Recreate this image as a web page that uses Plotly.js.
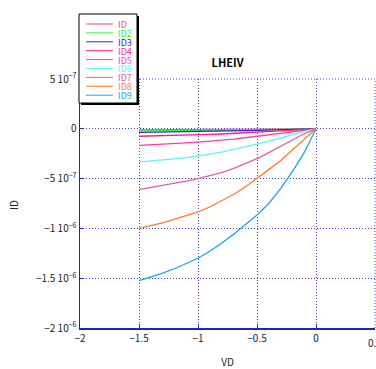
<!DOCTYPE html>
<html>
<head>
<meta charset="utf-8">
<script src="https://cdn.plot.ly/plotly-3.0.1.min.js"></script>
<style>html,body{margin:0;padding:0;background:#fff;}#chart{width:376px;height:369px;}</style>
</head>
<body>
<div id="chart"></div>
<script>
// ---- data ----
const VD = [-1.5,-1.4,-1.3,-1.2,-1.1,-1.0,-0.9,-0.8,-0.7,-0.6,-0.5,-0.4,-0.3,-0.2,-0.1,0];
const ID1 = [-0.10,-0.10,-0.09,-0.09,-0.08,-0.08,-0.07,-0.07,-0.06,-0.05,-0.05,-0.04,-0.03,-0.02,-0.01,0].map(v=>v*1e-7);
const ID2 = [-0.20,-0.19,-0.19,-0.18,-0.17,-0.16,-0.15,-0.14,-0.12,-0.11,-0.09,-0.07,-0.06,-0.04,-0.02,0].map(v=>v*1e-7);
const ID3 = [-0.35,-0.34,-0.33,-0.31,-0.30,-0.28,-0.26,-0.24,-0.21,-0.19,-0.16,-0.13,-0.10,-0.07,-0.03,0].map(v=>v*1e-7);
const ID4 = [-0.75,-0.73,-0.70,-0.67,-0.64,-0.60,-0.56,-0.52,-0.46,-0.40,-0.34,-0.28,-0.21,-0.14,-0.07,0].map(v=>v*1e-7);
const ID5 = [-1.67,-1.62,-1.56,-1.49,-1.42,-1.34,-1.25,-1.15,-1.03,-0.90,-0.76,-0.62,-0.46,-0.30,-0.15,0].map(v=>v*1e-7);
const ID6 = [-3.33,-3.25,-3.15,-3.02,-2.90,-2.75,-2.55,-2.35,-2.10,-1.85,-1.55,-1.25,-0.90,-0.55,-0.25,0].map(v=>v*1e-7);
const ID7 = [-6.10,-5.90,-5.70,-5.45,-5.25,-5.00,-4.70,-4.40,-4.00,-3.50,-3.00,-2.40,-1.75,-1.10,-0.50,0].map(v=>v*1e-7);
const ID8 = [-10.0,-9.75,-9.45,-9.10,-8.75,-8.35,-7.85,-7.25,-6.60,-5.85,-5.00,-4.10,-3.20,-2.10,-1.00,0].map(v=>v*1e-7);
const ID9 = [-15.25,-14.9,-14.5,-14.05,-13.55,-13.0,-12.3,-11.5,-10.6,-9.65,-8.65,-7.5,-6.0,-4.3,-2.4,0].map(v=>v*1e-7);

const seriesNames = ["ID","ID2","ID3","ID4","ID5","ID6","ID7","ID8","ID9"];
const seriesData = [ID1,ID2,ID3,ID4,ID5,ID6,ID7,ID8,ID9];
const seriesColors = ["#ff3d9a","#33ee33","#2a2acc","#ff1a8c","#ff3da0","#5ff5f5","#e0609a","#ff7a26","#1fa6dd"];

const xTickVals = [-2,-1.5,-1,-0.5,0,0.5];
const xTickText = ["−2","−1.5","−1","−0.5","0","0.5"];
const yTickVals = [5e-7,0,-5e-7,-1e-6,-1.5e-6,-2e-6];
const yTickText = ["5 10<sup>−7</sup>","0","−5 10<sup>−7</sup>","−1 10<sup>−6</sup>","−1.5 10<sup>−6</sup>","−2 10<sup>−6</sup>"];

// ---- layout geometry ----
const W=376, H=369, L=80, R=1, T=79, B=41;
const pw=W-L-R, ph=H-T-B;
const px = x => (x-L)/pw;
const py = y => (H-B-y)/ph;
const FONT = '"Noto Sans CJK JP", "DejaVu Sans", sans-serif';
const BLUE = '#2020cc';
const GRID = '#3c3cd8';
const DOT = '1px,2px';

const traces = seriesNames.map((n,i)=>({
  x: VD, y: seriesData[i], name: n, type:'scatter', mode:'lines',
  line:{color:seriesColors[i], width:1.3}, showlegend:false, hoverinfo:'skip'
}));

const shapes = [
  // dotted top and right frame (grid at range ends)
  {type:'line', xref:'paper', yref:'paper', x0:0, x1:1, y0:1, y1:1, line:{color:GRID, width:1, dash:DOT}, layer:'below'},
  {type:'line', xref:'paper', yref:'paper', x0:1, x1:1, y0:0, y1:1, line:{color:GRID, width:1, dash:DOT}, layer:'below'},
  // compact legend box with shadow
  {type:'rect', xref:'paper', yref:'paper', x0:px(81), x1:px(139), y0:py(16), y1:py(105), fillcolor:'#000', line:{width:0}},
  {type:'rect', xref:'paper', yref:'paper', x0:px(79), x1:px(137), y0:py(14), y1:py(103), fillcolor:'#fff', line:{color:'#000', width:1}}
];
const annotations = [];
seriesNames.forEach((n,i)=>{
  const yy = 24 + i*8.9;
  shapes.push({type:'line', xref:'paper', yref:'paper', x0:px(86), x1:px(113), y0:py(yy), y1:py(yy), line:{color:seriesColors[i], width:1}});
  annotations.push({xref:'paper', yref:'paper', x:px(117), y:py(yy+0.5), text:n, showarrow:false, xanchor:'left', yanchor:'middle',
    borderpad:0, font:{family:FONT, size:9, color:seriesColors[i]}});
});
// y axis title and clipped right-edge x tick label
annotations.push({xref:'paper', yref:'paper', x:px(13), y:py(205), text:'ID', textangle:-90, showarrow:false,
  xanchor:'center', yanchor:'middle', font:{family:FONT, size:10, color:'#222'}});
annotations.push({xref:'paper', yref:'paper', x:1, y:py(342), text:'0.5', showarrow:false,
  xanchor:'center', yanchor:'middle', font:{family:FONT, size:10, color:'#222'}});

const layout = {
  width:W, height:H,
  margin:{l:L, r:R, t:T, b:B, pad:0},
  paper_bgcolor:'#fff', plot_bgcolor:'#fff',
  font:{family:FONT, size:10, color:'#222'},
  title:{text:'<b>LHEIV</b>', x:0.5, xref:'paper', y:1-63/H, yref:'container', yanchor:'middle', font:{family:FONT, size:11, color:'#000'}},
  xaxis:{range:[-2,0.5], tickvals:xTickVals, ticktext:xTickText, showgrid:true, gridcolor:GRID, griddash:DOT, gridwidth:1,
    zeroline:false, showline:true, linecolor:BLUE, linewidth:1.5, ticks:'inside', ticklen:4, tickcolor:BLUE,
    tickfont:{family:FONT, size:10, color:'#222'},
    title:{text:'VD', font:{family:FONT, size:10, color:'#222'}, standoff:18}},
  yaxis:{range:[-2e-6,5e-7], tickvals:yTickVals, ticktext:yTickText, showgrid:true, gridcolor:GRID, griddash:DOT, gridwidth:1,
    zeroline:false, showline:true, linecolor:BLUE, linewidth:1.5, ticks:'inside', ticklen:4, tickcolor:BLUE,
    tickfont:{family:FONT, size:10, color:'#222'}},
  shapes:shapes, annotations:annotations, showlegend:false
};
Plotly.newPlot('chart', traces, layout, {staticPlot:true, displayModeBar:false});
</script>
</body>
</html>
